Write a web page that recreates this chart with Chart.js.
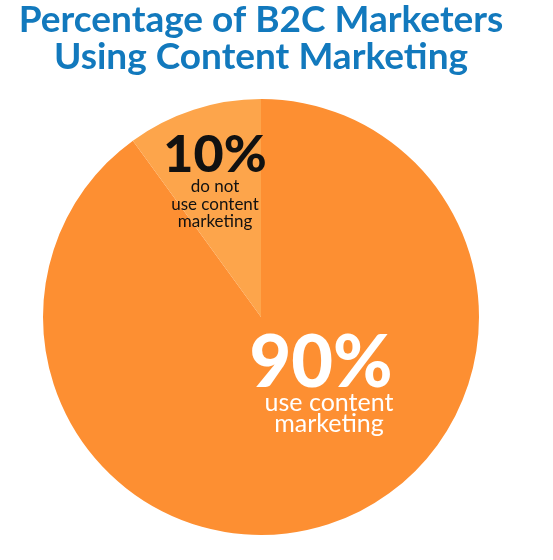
<!DOCTYPE html>
<html>
<head>
<meta charset="utf-8">
<script src="https://cdn.jsdelivr.net/npm/chart.js@4"></script>
<style>
  html, body { margin: 0; padding: 0; background: #fff; }
  #wrap { width: 553px; height: 560px; }
</style>
</head>
<body>
<div id="wrap"><canvas id="pieChart"></canvas></div>
<script>
// chart data
const categories = ["use content marketing", "do not use content marketing"];
const shares = [90, 10];
const sliceColors = ["#fd8f32", "#fda54b"];
const titleLines = ["Percentage of B2C Marketers", "Using Content Marketing"];

// big % figure plus caption lines for each slice
const labelLines = [
  ["use content", "marketing"],
  ["do not", "use content", "marketing"],
];

const sliceLabels = {
  id: "sliceLabels",
  afterDatasetsDraw(chart) {
    const arc = chart.getDatasetMeta(0).data[0];
    if (!arc) return;
    const { x, y } = arc.getProps(["x", "y"], true);
    const ctx = chart.ctx;
    ctx.save();
    ctx.textAlign = "center";
    ctx.textBaseline = "alphabetic";

    // 10% slice (top, narrow)
    ctx.fillStyle = "#111";
    ctx.font = "900 52px Lato, sans-serif";
    ctx.fillText(`${shares[1]}%`, x - 46, y - 145);
    ctx.font = "400 17px Lato, sans-serif";
    labelLines[1].forEach((line, i) => {
      ctx.fillText(line, x - 46, y - 125 + i * 17.5);
    });

    // 90% slice
    ctx.fillStyle = "#fff";
    ctx.font = "900 72px Lato, sans-serif";
    ctx.fillText(`${shares[0]}%`, x + 60, y + 70);
    ctx.font = "400 25px Lato, sans-serif";
    labelLines[0].forEach((line, i) => {
      ctx.fillText(line, x + 68, y + 94 + i * 21);
    });
    ctx.restore();
  },
};

new Chart(document.getElementById("pieChart"), {
  type: "pie",
  data: {
    labels: categories,
    datasets: [
      {
        data: shares,
        backgroundColor: sliceColors,
        borderWidth: 0,
      },
    ],
  },
  options: {
    responsive: true,
    maintainAspectRatio: false,
    animation: false,
    layout: { padding: { left: 0, right: 31, top: 0, bottom: 25 } },
    plugins: {
      legend: { display: false },
      tooltip: { enabled: false },
      title: {
        display: true,
        text: titleLines,
        color: "#1279bd",
        font: { family: "Lato", size: 37, weight: "700", lineHeight: 1.0 },
        padding: { top: 2, bottom: 23 },
      },
    },
  },
  plugins: [sliceLabels],
});
</script>
</body>
</html>
